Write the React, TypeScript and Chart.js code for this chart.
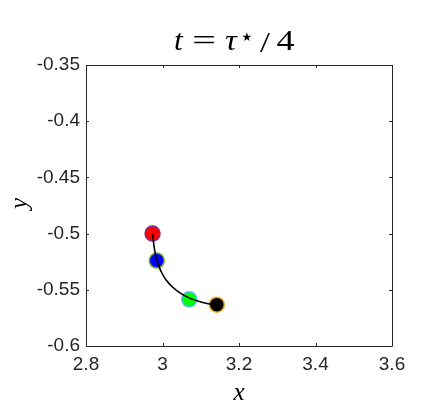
import React, { useEffect, useRef } from "react";
import { Chart, registerables } from "chart.js";

Chart.register(...registerables);

const xTicks = [2.8, 3.0, 3.2, 3.4, 3.6];
const yTicks = [-0.6, -0.55, -0.5, -0.45, -0.4, -0.35];

const markerX = [2.974, 2.985, 3.07, 3.142];
const markerY = [-0.5, -0.524, -0.5585, -0.5632];
const markerFill = ["#ff0000", "#0000ff", "#00ff00", "#000000"];
const markerEdge = ["#7e2f8e", "#77ac30", "#4dbeee", "#edb120"];

const curveX = [2.974, 2.978, 2.983, 2.99, 2.999, 3.01, 3.024, 3.042, 3.064, 3.09, 3.116, 3.142];
const curveY = [-0.5004, -0.5115, -0.5205, -0.5285, -0.5355, -0.5415, -0.5468, -0.5518, -0.5563, -0.5598, -0.5622, -0.5635];

const AXIS_COLOR = "#262626";

const decorPlugin = {
  id: "decor",
  afterDraw(chart: any) {
    const ctx = chart.ctx;
    const { left, right, top, bottom } = chart.chartArea;
    const xs = chart.scales.x;
    const ys = chart.scales.y;
    ctx.save();
    ctx.strokeStyle = AXIS_COLOR;
    ctx.lineWidth = 1;
    ctx.beginPath();
    ctx.rect(Math.round(left) + 0.5, Math.round(top) + 0.5, Math.round(right - left), Math.round(bottom - top));
    ctx.stroke();
    const tl = 3;
    ctx.beginPath();
    xTicks.forEach((v) => {
      const px = Math.round(xs.getPixelForValue(v)) + 0.5;
      ctx.moveTo(px, bottom);
      ctx.lineTo(px, bottom - tl);
      ctx.moveTo(px, top);
      ctx.lineTo(px, top + tl);
    });
    yTicks.forEach((v) => {
      const py = Math.round(ys.getPixelForValue(v)) + 0.5;
      ctx.moveTo(left, py);
      ctx.lineTo(left + tl, py);
      ctx.moveTo(right, py);
      ctx.lineTo(right - tl, py);
    });
    ctx.stroke();

    // Title: t = τ⋆/4
    ctx.fillStyle = "#000000";
    ctx.textAlign = "center";
    ctx.textBaseline = "alphabetic";
    const base = 50;
    const glyph = (s: string, font: string, cx: number, y: number, sx = 1) => {
      ctx.save();
      ctx.font = font;
      ctx.translate(cx, y);
      ctx.scale(sx, 1);
      ctx.fillText(s, 0, 0);
      ctx.restore();
    };
    glyph("t", "italic 30px 'Liberation Serif'", 178.5, base, 1.05);
    glyph("=", "30px 'Liberation Serif'", 204, base, 1.4);
    glyph("τ", "italic 30px 'Liberation Serif'", 231, base, 1.1);
    glyph("★", "12px 'DejaVu Sans'", 247, base - 9, 1);
    glyph("/", "30px 'Liberation Serif'", 265, base + 2, 1.2);
    glyph("4", "30px 'Liberation Serif'", 285.5, base, 1.2);

    // Axis labels
    ctx.font = "italic 25px 'Liberation Serif'";
    ctx.fillText("x", (left + right) / 2, 400);
    ctx.save();
    ctx.translate(27, (top + bottom) / 2 - 2);
    ctx.rotate(-Math.PI / 2);
    ctx.fillText("y", 0, 0);
    ctx.restore();
    ctx.restore();
  },
};

export default function App() {
  const ref = useRef<HTMLCanvasElement>(null);
  useEffect(() => {
    if (!ref.current) return;
    const tickFont = { family: "'Liberation Sans', Arial, sans-serif", size: 19 };
    const chart = new Chart(ref.current, {
      type: "scatter",
      data: {
        datasets: [
          {
            data: curveX.map((x, i) => ({ x, y: curveY[i] })),
            showLine: true,
            borderColor: "#000000",
            borderWidth: 1.6,
            pointRadius: 0,
            cubicInterpolationMode: "monotone",
            fill: false,
          } as any,
          {
            data: markerX.map((x, i) => ({ x, y: markerY[i] })),
            showLine: false,
            pointRadius: 7.5,
            pointBackgroundColor: markerFill,
            pointBorderColor: markerEdge,
            pointBorderWidth: 1.5,
          } as any,
        ],
      },
      options: {
        responsive: false,
        animation: false,
        events: [],
        layout: { padding: { left: 0, top: 65, right: 42, bottom: 0 } },
        plugins: { legend: { display: false }, tooltip: { enabled: false }, title: { display: false } },
        scales: {
          x: {
            type: "linear",
            min: 2.8,
            max: 3.6,
            afterBuildTicks: (s: any) => {
              s.ticks = xTicks.map((v) => ({ value: v }));
            },
            afterFit: (s: any) => {
              s.height = 65;
            },
            ticks: {
              font: tickFont,
              color: AXIS_COLOR,
              padding: 7,
              maxRotation: 0,
              callback: (v: any) => String(Math.round(Number(v) * 10) / 10),
            },
            grid: { display: false, drawTicks: false },
            border: { display: false },
          },
          y: {
            type: "linear",
            min: -0.6,
            max: -0.35,
            afterBuildTicks: (s: any) => {
              s.ticks = yTicks.map((v) => ({ value: v }));
            },
            afterFit: (s: any) => {
              s.width = 86;
            },
            ticks: {
              font: tickFont,
              color: AXIS_COLOR,
              padding: 6,
              callback: (v: any) => String(Math.round(Number(v) * 100) / 100),
            },
            grid: { display: false, drawTicks: false },
            border: { display: false },
          },
        },
      },
      plugins: [decorPlugin],
    });
    return () => chart.destroy();
  }, []);
  return (
    <div style={{ position: "fixed", left: 0, top: 0, width: 434, height: 411, background: "#ffffff" }}>
      <canvas ref={ref} width={434} height={411} style={{ width: 434, height: 411 }} />
    </div>
  );
}
